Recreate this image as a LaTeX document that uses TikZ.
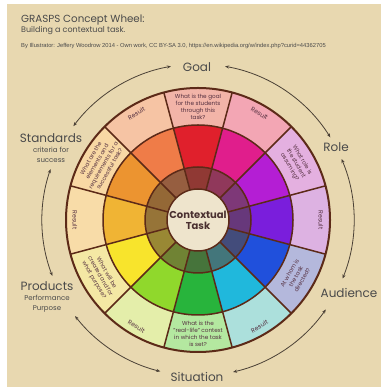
\documentclass[tikz,border=0pt]{standalone}
\usepackage{fontspec}
\setmainfont{Poppins}
\newfontfamily\creditfont{Liberation Sans}
\usetikzlibrary{arrows.meta}
\definecolor{bg}{HTML}{E8D8B0}
\definecolor{linebrown}{HTML}{5C2A18}
\definecolor{darkbase}{HTML}{5A4A3A}
\definecolor{centerfill}{HTML}{EEE4CC}
\definecolor{centertext}{HTML}{4A3030}
\definecolor{segtext}{HTML}{553040}
\definecolor{labeltext}{HTML}{4A4A4A}
\definecolor{arrowcol}{HTML}{4A4035}
% bright ring
\definecolor{b0}{HTML}{E0202C}
\definecolor{b1}{HTML}{E01E8C}
\definecolor{b2}{HTML}{B41ED4}
\definecolor{b3}{HTML}{7A1EDC}
\definecolor{b4}{HTML}{2050DC}
\definecolor{b5}{HTML}{20B8DC}
\definecolor{b6}{HTML}{28B43C}
\definecolor{b7}{HTML}{90D82C}
\definecolor{b8}{HTML}{F8E42C}
\definecolor{b9}{HTML}{F0B434}
\definecolor{b10}{HTML}{EC9430}
\definecolor{b11}{HTML}{EF7C48}
% pale ring
\definecolor{p0}{HTML}{F2B4A8}
\definecolor{p1}{HTML}{F3A6B4}
\definecolor{p2}{HTML}{E4B0E0}
\definecolor{p3}{HTML}{DDB2E2}
\definecolor{p4}{HTML}{B4B8DC}
\definecolor{p5}{HTML}{ACE0DC}
\definecolor{p6}{HTML}{B4E8A0}
\definecolor{p7}{HTML}{E4EEAA}
\definecolor{p8}{HTML}{F4E8A4}
\definecolor{p9}{HTML}{F8DCA8}
\definecolor{p10}{HTML}{F8D8A4}
\definecolor{p11}{HTML}{F6C4A4}
\tikzset{
  wheelline/.style={draw=linebrown, line width=1.5pt},
  segtxt/.style={text=segtext, align=center, inner sep=0pt,
    font=\fontsize{5.7}{7.2}\selectfont},
  restxt/.style={text=segtext, inner sep=0pt, font=\fontsize{6.2}{7.5}\selectfont},
  biglabel/.style={text=labeltext, inner sep=0pt, font=\fontsize{12}{14}\selectfont},
  sublabel/.style={text=labeltext, inner sep=0pt, align=center, font=\fontsize{7}{9.5}\selectfont},
  cyclearrow/.style={draw=arrowcol, line width=0.8pt,
    {Stealth[length=4pt,width=3.2pt]}-{Stealth[length=4pt,width=3.2pt]}},
}
\begin{document}
\begin{tikzpicture}[x=1pt,y=1pt]
\useasboundingbox (0,0) rectangle (381,387);
\fill[white] (0,0) rectangle (381,387);
\fill[bg] (7,0) rectangle (381,383);

% title block
\node[anchor=base west, inner sep=0pt, text=labeltext, font=\fontsize{10.3}{12}\selectfont] (title) at (21,364) {GRASPS Concept Wheel:};
\node[anchor=base west, inner sep=0pt, text=labeltext, font=\fontsize{8}{10}\selectfont] (subtitle) at (21,354) {Building a contextual task.};
\node[anchor=base west, inner sep=0pt, text=labeltext, font=\creditfont\fontsize{5.8}{7}\selectfont] (credit) at (21,339) {By Illustrator: Jeffery Woodrow 2014 - Own work, CC BY-SA 3.0, https://en.wikipedia.org/w/index.php?curid=44362705};

\begin{scope}[shift={(198,167)}]
  \foreach \i in {0,...,11}{
    \pgfmathsetmacro\s{75-30*\i}
    \pgfmathsetmacro\e{105-30*\i}
    \fill[fill=p\i] (\s:95pt) arc[start angle=\s,end angle=\e,radius=95pt] -- (\e:132pt) arc[start angle=\e,end angle=\s,radius=132pt] -- cycle;
    \fill[fill=b\i] (\s:53pt) arc[start angle=\s,end angle=\e,radius=53pt] -- (\e:95pt) arc[start angle=\e,end angle=\s,radius=95pt] -- cycle;
    \fill[fill=b\i!40!darkbase] (\s:31pt) arc[start angle=\s,end angle=\e,radius=31pt] -- (\e:53pt) arc[start angle=\e,end angle=\s,radius=53pt] -- cycle;
  }
  \fill[centerfill] (0,0) circle[radius=31pt];
  \foreach \k in {0,...,11}{
    \draw[wheelline] ({15+30*\k}:31pt) -- ({15+30*\k}:132pt);
  }
  \draw[wheelline] (0,0) circle[radius=53pt];
  \draw[wheelline] (0,0) circle[radius=95pt];
  \draw[wheelline] (0,0) circle[radius=31pt];
  \draw[wheelline, line width=2pt] (0,0) circle[radius=132pt];

  \node[text=centertext, inner sep=0pt, align=center, font=\bfseries\fontsize{10}{11}\selectfont] (ctx) at (0,0) {Contextual\\Task};

  % segment texts
  \node[segtxt] (seg0) at (90:113pt) {What is the goal\\for the students\\through this\\task?};
  \node[restxt, rotate=-30] (seg1) at (60:123pt) {Result};
  \node[segtxt, rotate=-60] (seg2) at (30:113pt) {What role is\\the student\\assuming?};
  \node[restxt, rotate=-90] (seg3) at (0:123pt) {Result};
  \node[segtxt, rotate=60] (seg4) at (-30:113pt) {At whom is\\the task\\directed?};
  \node[restxt, rotate=30] (seg5) at (-60:123pt) {Result};
  \node[segtxt] (seg6) at (-90:114pt) {What is the\\"real-life" context\\in which the task\\is set?};
  \node[restxt, rotate=-30] (seg7) at (-120:123pt) {Result};
  \node[segtxt, rotate=-60] (seg8) at (-150:113pt) {What will be\\created and for\\what purpose?};
  \node[restxt, rotate=-90] (seg9) at (180:123pt) {Result};
  \node[segtxt, rotate=60] (seg10) at (150:113pt) {What are the\\elements and\\requirements for a\\successful task?};
  \node[restxt, rotate=30] (seg11) at (120:123pt) {Result};

  % arrow end points
  \coordinate (g1) at (80:156pt);
  \coordinate (r1) at (32:156pt);
  \coordinate (r2) at (23:156pt);
  \coordinate (a1) at (-22:156pt);
  \coordinate (a2) at (-35:156pt);
  \coordinate (s1) at (-77:156pt);
  \coordinate (s2) at (-104:156pt);
  \coordinate (p1) at (-142:156pt);
  \coordinate (p2) at (-159:156pt);
  \coordinate (st1) at (-199:156pt);
  \coordinate (st2) at (-217:156pt);
  \coordinate (g2) at (-260:156pt);
  \draw[cyclearrow] (g1) arc[start angle=80,end angle=32,radius=156pt];
  \draw[cyclearrow] (r2) arc[start angle=23,end angle=-22,radius=156pt];
  \draw[cyclearrow] (a2) arc[start angle=-35,end angle=-77,radius=156pt];
  \draw[cyclearrow] (s2) arc[start angle=-104,end angle=-142,radius=156pt];
  \draw[cyclearrow] (p2) arc[start angle=-159,end angle=-199,radius=156pt];
  \draw[cyclearrow] (st2) arc[start angle=-217,end angle=-260,radius=156pt];
\end{scope}

% outer labels
\node[biglabel] (goal) at (197,320) {Goal};
\node[biglabel] (role) at (336,240) {Role};
\node[biglabel] (audience) at (349,94) {Audience};
\node[biglabel] (situation) at (197,10) {Situation};
\node[biglabel] (standards) at (51,249) {Standards};
\node[sublabel, anchor=north] (stdsub) at (51,240) {criteria for\\success};
\node[biglabel] (products) at (47,101) {Products};
\node[sublabel, anchor=north] (prodsub) at (47,92) {Performance\\Purpose};
\end{tikzpicture}
\end{document}
